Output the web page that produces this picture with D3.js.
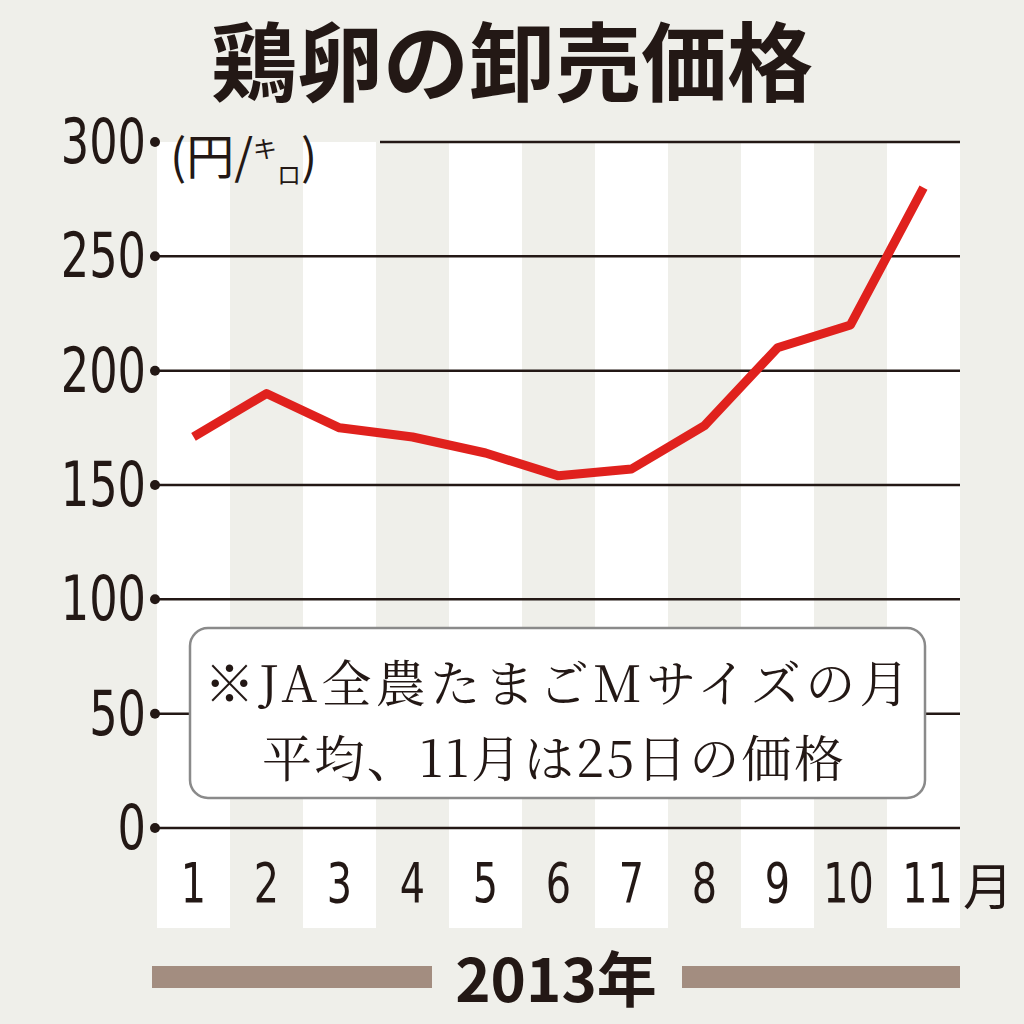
<!DOCTYPE html>
<html><head><meta charset="utf-8">
<script src="https://cdn.jsdelivr.net/npm/d3@7"></script>
<style>body{margin:0;background:#efefea}</style>
</head><body><svg width="1024" height="1024"></svg>
<script>
const months = ["1","2","3","4","5","6","7","8","9","10","11"]
const prices = [171, 190, 175, 171, 164, 154, 157, 176, 210, 220, 280]
const yTicks = [0, 50, 100, 150, 200, 250, 300]

const svg = d3.select("svg")
const narrow = "'Liberation Sans Narrow','DejaVu Sans Condensed',sans-serif"
const jp = "'Noto Sans CJK JP',sans-serif"

svg.append("rect").attr("width", 1024).attr("height", 1024).attr("fill", "#efefea")

const x = d3.scaleBand().domain(months).range([157, 960])
const y = d3.scaleLinear().domain([0, 300]).range([828, 142])

// stripes
svg.selectAll(".stripe").data(months).join("rect")
	.attr("x", d => x(d)).attr("y", 142)
	.attr("width", x.bandwidth()).attr("height", 786)
	.attr("fill", (d, i) => i % 2 == 0 ? "#ffffff" : "#efefea")

// grid
svg.selectAll(".grid").data(yTicks).join("line")
	.attr("x1", d => d == 300 ? 380 : 158).attr("x2", 960)
	.attr("y1", d => y(d)).attr("y2", d => y(d))
	.attr("stroke", "#231815").attr("stroke-width", 2.5)
svg.selectAll(".dot").data(yTicks).join("circle")
	.attr("cx", 155).attr("cy", d => y(d)).attr("r", 5).attr("fill", "#231815")
svg.selectAll(".ylab").data(yTicks).join("text")
	.attr("transform", d => `translate(146,${y(d) + 21}) scale(0.92,1.15)`)
	.attr("text-anchor", "end").attr("font-family", narrow).attr("font-size", 54)
	.attr("fill", "#231815").text(d => d)

// unit
const unit = svg.append("text").attr("x", 170).attr("y", 174).attr("font-family", jp)
	.attr("font-size", 48).attr("fill", "#231815")
unit.append("tspan").text("(円/")
unit.append("tspan").attr("font-size", 24).attr("dy", -16).text("キ")
unit.append("tspan").attr("font-size", 24).attr("dy", 26).text("ロ")
unit.append("tspan").attr("dy", -10).text(")")

// month labels
svg.selectAll(".xlab").data(months).join("text")
	.attr("transform", d => `translate(${x(d) + x.bandwidth() / 2 + (d == "10" ? -2 : d == "11" ? 4 : 0)},902) scale(0.92,1.15)`)
	.attr("text-anchor", "middle").attr("font-family", narrow).attr("font-size", 48)
	.attr("fill", "#231815").text(d => d)
svg.append("text").attr("x", 963).attr("y", 905).attr("font-family", jp)
	.attr("font-size", 50).attr("fill", "#231815").text("月")

// line
svg.append("path").datum(prices)
	.attr("d", d3.line().x((d, i) => x(months[i]) + x.bandwidth() / 2).y(d => y(d)))
	.attr("fill", "none").attr("stroke", "#e0211d").attr("stroke-width", 9)
	.attr("stroke-linejoin", "round")

// note
svg.append("rect").attr("x", 190).attr("y", 628).attr("width", 735).attr("height", 170)
	.attr("rx", 18).attr("fill", "#ffffff").attr("stroke", "#8a8a8a").attr("stroke-width", 2.5)
svg.append("text").attr("x", 557).attr("y", 702).attr("text-anchor", "middle")
	.attr("font-family", "'Noto Serif CJK JP','Liberation Serif',serif").attr("font-size", 50)
	.attr("fill", "#231815").attr("textLength", 705).text("※JA全農たまごMサイズの月")
svg.append("text").attr("x", 262).attr("y", 777)
	.attr("font-family", "'Noto Serif CJK JP','Liberation Serif',serif").attr("font-size", 50)
	.attr("fill", "#231815").attr("textLength", 582).text("平均、11月は25日の価格")

// title
svg.append("text").attr("x", 512).attr("y", 95).attr("text-anchor", "middle")
	.attr("font-family", jp).attr("font-weight", "bold").attr("font-size", 86)
	.attr("fill", "#231815").text("鶏卵の卸売価格")

// year
svg.append("rect").attr("x", 152).attr("y", 966).attr("width", 280).attr("height", 22).attr("fill", "#a38d80")
svg.append("rect").attr("x", 682).attr("y", 966).attr("width", 278).attr("height", 22).attr("fill", "#a38d80")
svg.append("text").attr("x", 556).attr("y", 1002).attr("text-anchor", "middle")
	.attr("font-family", jp).attr("font-weight", "bold").attr("font-size", 60)
	.attr("fill", "#231815").text("2013年")
</script></body></html>
